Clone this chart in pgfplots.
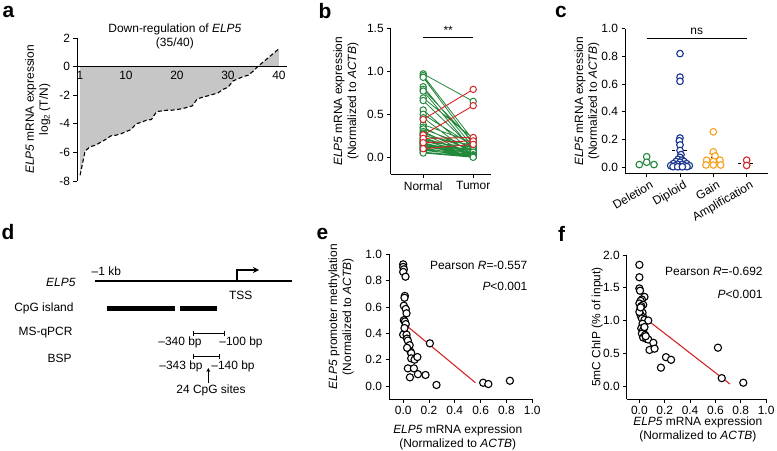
\documentclass[border=0pt]{standalone}
\usepackage{fontspec}
\setmainfont{Liberation Sans}
\usepackage{pgfplots}
\pgfplotsset{compat=1.18}
\usetikzlibrary{arrows.meta}

\definecolor{gGreen}{RGB}{34,136,58}
\definecolor{gRed}{RGB}{214,36,40}
\definecolor{gBlue}{RGB}{24,52,140}
\definecolor{gOrange}{RGB}{247,160,30}
\newcommand{\fs}{\fontsize{12}{14}\selectfont}

\pgfplotsset{
 gp/.style={scale only axis, clip=false, anchor=south west,
   axis x line*=bottom, axis y line*=left,
   axis line style={line width=1bp,black},
   every inner x axis line/.append style={-}, every outer x axis line/.append style={-},
   every inner y axis line/.append style={-}, every outer y axis line/.append style={-},
   x axis line style={-}, y axis line style={-},
   tick style={black,line width=0.9bp},
   major tick length=3.5bp, tick align=outside,
   tick label style={font=\fs},
   label style={font=\fs, align=center},
   /pgf/number format/assume math mode=true},
 dec1/.style={yticklabel style={/pgf/number format/.cd,fixed,fixed zerofill,precision=1}},
 dec1x/.style={xticklabel style={/pgf/number format/.cd,fixed,fixed zerofill,precision=1}},
 opencirc/.style={only marks, mark=*, mark size=3.6bp, mark options={fill=white, draw=black, line width=1.1bp}},
}

\begin{document}
\begin{tikzpicture}
\path[use as bounding box] (0,0) rectangle (777bp,451bp);

% ---------- a ----------
\begin{axis}[gp, at={(77bp,270bp)}, width=209.6bp, height=143bp,
  xmin=0.4, xmax=41.5, ymin=-8, ymax=2, axis on top,
  axis x line=middle, axis y line*=left,
  every inner x axis line/.append style={-}, x axis line style={-},
  xtick={1,10,20,30,40}, xtick style={draw=none},
  ytick={-8,-6,-4,-2,0,2},
  xticklabel style={yshift=1bp},
  ylabel={\textit{ELP5} mRNA expression\\log\textsubscript{2} (T/N)},
  ylabel style={at={(axis description cs:-0.11,0.5)}, anchor=south}]
\addplot[fill=gray!45, draw=none] coordinates {(1,-7.6)(2,-5.9)(3,-5.6)(4,-5.5)(5,-5.3)(6,-5.1)(7,-4.85)(8,-4.8)(9,-4.7)(10,-4.55)(11,-4.4)(12,-4.0)(13,-3.9)(14,-3.75)(15,-3.7)(16,-3.15)(17,-3.1)(18,-3.05)(19,-3.05)(20,-3.0)(21,-2.95)(22,-2.85)(23,-2.75)(24,-2.25)(25,-2.15)(26,-2.05)(27,-1.95)(28,-1.85)(29,-1.6)(30,-1.45)(31,-1.0)(32,-0.85)(33,-0.7)(34,-0.6)(35,-0.3)(36,0.05)(37,0.35)(38,0.65)(39,0.95)(40,1.25)} \closedcycle;
\addplot[black, line width=1.1bp, dash pattern=on 4bp off 2.5bp] coordinates {(1,-7.6)(2,-5.9)(3,-5.6)(4,-5.5)(5,-5.3)(6,-5.1)(7,-4.85)(8,-4.8)(9,-4.7)(10,-4.55)(11,-4.4)(12,-4.0)(13,-3.9)(14,-3.75)(15,-3.7)(16,-3.15)(17,-3.1)(18,-3.05)(19,-3.05)(20,-3.0)(21,-2.95)(22,-2.85)(23,-2.75)(24,-2.25)(25,-2.15)(26,-2.05)(27,-1.95)(28,-1.85)(29,-1.6)(30,-1.45)(31,-1.0)(32,-0.85)(33,-0.7)(34,-0.6)(35,-0.3)(36,0.05)(37,0.35)(38,0.65)(39,0.95)(40,1.25)};
\node[font=\fs, align=center] at (axis cs:19.6,2.1) {Down-regulation of \textit{ELP5}\\(35/40)};
\end{axis}

% ---------- b ----------
\begin{axis}[gp, dec1, at={(390.7bp,276.5bp)}, width=100bp, height=146.2bp,
  xmin=-0.65, xmax=1.35, ymin=-0.2, ymax=1.5,
  xtick={0,1}, xticklabels={Normal,Tumor}, ytick={0,0.5,1,1.5},
  unbounded coords=jump,
  ylabel={\textit{ELP5} mRNA expression\\(Normalized to \textit{ACTB})},
  ylabel style={at={(axis description cs:-0.287,0.5)}, anchor=south}]
\addplot[gGreen, line width=0.8bp, mark=*, mark size=3.2bp, mark options={fill=white, line width=1bp}] coordinates {
(0,0.97)(1,0.65)(0.5,nan)(0,0.95)(1,0.20)(0.5,nan)(0,0.93)(1,0.15)(0.5,nan)(0,0.82)(1,0.12)(0.5,nan)
(0,0.79)(1,0.18)(0.5,nan)(0,0.77)(1,0.08)(0.5,nan)(0,0.69)(1,0.22)(0.5,nan)(0,0.66)(1,0.10)(0.5,nan)
(0,0.55)(1,0.05)(0.5,nan)(0,0.50)(1,0.13)(0.5,nan)(0,0.46)(1,0.02)(0.5,nan)(0,0.38)(1,0.17)(0.5,nan)
(0,0.35)(1,0.06)(0.5,nan)(0,0.33)(1,0.11)(0.5,nan)(0,0.30)(1,0.03)(0.5,nan)(0,0.28)(1,0.09)(0.5,nan)
(0,0.27)(1,0.01)(0.5,nan)(0,0.25)(1,0.14)(0.5,nan)(0,0.23)(1,0.04)(0.5,nan)(0,0.21)(1,0.07)(0.5,nan)
(0,0.20)(1,0.02)(0.5,nan)(0,0.19)(1,0.05)(0.5,nan)(0,0.18)(1,0.12)(0.5,nan)(0,0.17)(1,0.03)(0.5,nan)
(0,0.16)(1,0.01)(0.5,nan)(0,0.15)(1,0.08)(0.5,nan)(0,0.14)(1,0.04)(0.5,nan)(0,0.13)(1,0.02)(0.5,nan)
(0,0.12)(1,0.06)(0.5,nan)(0,0.11)(1,0.01)(0.5,nan)(0,0.10)(1,0.03)(0.5,nan)(0,0.09)(1,0.005)(0.5,nan)
(0,0.08)(1,0.02)(0.5,nan)(0,0.06)(1,0.01)(0.5,nan)(0,0.05)(1,0.0)};
\addplot[gRed, line width=0.9bp, mark=*, mark size=3.2bp, mark options={fill=white, line width=1bp}] coordinates {
(0,0.44)(1,0.79)(0.5,nan)(0,0.26)(1,0.60)(0.5,nan)(0,0.22)(1,0.23)(0.5,nan)(0,0.17)(1,0.19)(0.5,nan)(0,0.10)(1,0.15)};
\addplot[black, line width=1bp] coordinates {(0,1.39)(1,1.39)};
\node[font=\fs, anchor=south] at (axis cs:0.5,1.39) {**};
\end{axis}

% ---------- c ----------
\begin{axis}[gp, dec1, at={(625bp,277bp)}, width=143bp, height=145.3bp,
  xmin=-0.65, xmax=3.64, ymin=-0.05, ymax=1.0,
  xtick={0,1,2,3}, xticklabels={Deletion,Diploid,Gain,Amplification},
  xticklabel style={rotate=30, anchor=north east, inner sep=1.5bp, xshift=3bp, yshift=-2bp},
  ytick={0,0.2,0.4,0.6,0.8,1.0},
  ylabel={\textit{ELP5} mRNA expression\\(Normalized to \textit{ACTB})},
  ylabel style={at={(axis description cs:-0.154,0.5)}, anchor=south}]
\addplot[gGreen!40, line width=0.8bp] coordinates {(-0.2,0.035)(0.2,0.035)};
\addplot[gBlue, line width=1bp] coordinates {(1,0.08)(1,0.16)};
\addplot[gBlue, line width=1bp] coordinates {(0.88,0.16)(1.12,0.16)};
\addplot[gOrange, line width=1bp] coordinates {(2,0.04)(2,0.10)};
\addplot[gOrange, line width=1bp] coordinates {(1.88,0.10)(2.12,0.10)};
\addplot[only marks, mark=*, mark size=3.3bp, mark options={fill=white, draw=gGreen, line width=1.1bp}] coordinates {(-0.22,0.018)(0,0.075)(0,0.035)(0.22,0.018)};
\addplot[only marks, mark=*, mark size=3.3bp, mark options={fill=white, draw=gBlue, line width=1.1bp}] coordinates {
(1,0.82)(1,0.65)(1,0.62)(1,0.21)(0.98,0.19)(1,0.16)(1,0.12)(1.03,0.09)(1,0.07)(0.94,0.055)(1.06,0.05)(0.88,0.04)(1.12,0.04)(1,0.035)(0.8,0.025)(1.2,0.025)(0.93,0.02)(1.07,0.02)(0.72,0.01)(1.28,0.01)(0.86,0.01)(1.14,0.01)(0.79,0.003)(1.21,0.003)(1,0.005)(0.93,0.002)(1.07,0.002)};
\addplot[only marks, mark=*, mark size=3.3bp, mark options={fill=white, draw=gOrange, line width=1.1bp}] coordinates {
(2,0.255)(2,0.11)(2.05,0.08)(1.8,0.05)(2.2,0.05)(2,0.04)(1.78,0.015)(2,0.015)(2.22,0.015)};
\addplot[only marks, mark=*, mark size=3.3bp, mark options={fill=white, draw=gRed, line width=1.1bp}] coordinates {(3,0.05)(3,0.012)};
\addplot[black, dashed, line width=0.8bp] coordinates {(0.75,0.12)(1.25,0.12)};
\addplot[black, dashed, line width=0.8bp] coordinates {(1.75,0.067)(2.25,0.067)};
\addplot[black, dashed, line width=0.8bp] coordinates {(2.75,0.03)(3.25,0.03)};
\addplot[black, line width=1bp] coordinates {(0,0.93)(3,0.93)};
\node[font=\fs, anchor=south] at (axis cs:1.5,0.93) {ns};
\end{axis}

% ---------- e ----------
\begin{axis}[gp, dec1, dec1x, at={(389bp,51.8bp)}, width=143.2bp, height=144.9bp,
  xmin=-0.11, xmax=1.0, ymin=-0.1, ymax=1.0,
  xtick={0,0.2,0.4,0.6,0.8,1.0}, ytick={0,0.2,0.4,0.6,0.8,1.0},
  ylabel={\textit{ELP5} promoter methylation\\(Normalized to \textit{ACTB})},
  ylabel style={at={(axis description cs:-0.223,0.57)}, anchor=south},
  xlabel={\textit{ELP5} mRNA expression\\(Normalized to \textit{ACTB})},
  xlabel style={at={(axis description cs:0.48,-0.154)}, anchor=north}]
\addplot[opencirc] coordinates {
(0.0,0.924)(0.0,0.904)(0.005,0.886)(0.0,0.866)(0.018,0.83)(0.013,0.684)(0.01,0.67)(0.005,0.61)(0.02,0.585)(0.026,0.552)
(0.005,0.50)(0.013,0.49)(0.02,0.47)(0.0,0.39)(0.026,0.39)(0.03,0.36)(0.036,0.345)(0.05,0.31)(0.057,0.26)(0.062,0.25)
(0.062,0.21)(0.088,0.2)(0.11,0.22)(0.207,0.324)(0.036,0.134)(0.083,0.134)(0.052,0.066)(0.114,0.09)(0.173,0.084)(0.258,0.008)
(0.62,0.025)(0.66,0.015)(0.827,0.04)(0.01,0.44)(0.03,0.29)};
\addplot[gRed, line width=1.1bp] coordinates {(0.018,0.465)(0.56,0.025)};
\node[font=\fs, anchor=east] at (axis cs:0.99,0.919) {Pearson \textit{R}=-0.557};
\node[font=\fs, anchor=east] at (axis cs:0.99,0.76) {\textit{P}<0.001};
\end{axis}

% ---------- f ----------
\begin{axis}[gp, dec1, dec1x, at={(626.7bp,51.9bp)}, width=139.4bp, height=144.1bp,
  xmin=-0.1, xmax=1.0, ymin=-0.2, ymax=2.0,
  xtick={0,0.2,0.4,0.6,0.8,1.0}, ytick={0,0.5,1.0,1.5,2.0},
  ylabel={5mC ChIP (\% of input)},
  ylabel style={at={(axis description cs:-0.145,0.5)}, anchor=south},
  xlabel={\textit{ELP5} mRNA expression\\(Normalized to \textit{ACTB})},
  xlabel style={at={(axis description cs:0.51,-0.096)}, anchor=north}]
\addplot[opencirc] coordinates {
(0.0,1.85)(0.0,1.66)(0.0,1.49)(0.005,1.455)(0.04,1.36)(0.02,1.32)(0.01,1.30)(0.0,1.26)(0.03,1.24)(0.015,1.22)
(0.005,1.16)(0.025,1.12)(0.01,1.08)(0.03,1.05)(0.02,1.03)(0.04,1.01)(0.07,1.0)(0.025,0.95)(0.015,0.88)(0.03,0.855)
(0.02,0.80)(0.03,0.74)(0.045,0.78)(0.055,0.72)(0.07,0.71)(0.11,0.66)(0.08,0.55)(0.12,0.57)(0.21,0.44)(0.25,0.40)
(0.17,0.28)(0.62,0.585)(0.65,0.12)(0.82,0.05)(0.04,0.90)(0.05,0.76)(0.0,1.13)(0.01,1.2)};
\addplot[gRed, line width=1.1bp] coordinates {(0.055,1.02)(0.715,0.03)};
\node[font=\fs, anchor=east] at (axis cs:1.0,1.745) {Pearson \textit{R}=-0.692};
\node[font=\fs, anchor=east] at (axis cs:1.0,1.40) {\textit{P}<0.001};
\end{axis}

% ---------- overlay: panel d and letters ----------
\begin{axis}[at={(0bp,0bp)}, anchor=south west, scale only axis, width=777bp, height=451bp,
  xmin=0, xmax=777, ymin=0, ymax=451, y dir=reverse, hide axis, clip=false]
\addplot[black, line width=1.8bp] coordinates {(95,281)(291.7,281)};
\addplot[black, line width=1.6bp, -{Stealth[length=6bp,width=6bp]}] coordinates {(236.7,281)(236.7,270)(259,270)};
\addplot[black, line width=5bp] coordinates {(106.7,308.3)(175,308.3)};
\addplot[black, line width=5bp] coordinates {(180,308.3)(216.7,308.3)};
\addplot[black, line width=1bp, arrows={Bar[width=5bp]-Bar[width=5bp]}] coordinates {(193.3,333.3)(225,333.3)};
\addplot[black, line width=1bp, arrows={Bar[width=5bp]-Bar[width=5bp]}] coordinates {(192.7,356.7)(220,356.7)};
\addplot[black, line width=1bp, -{Stealth[length=4bp,width=4bp]}] coordinates {(208.3,383.3)(208.3,368)};
\node[font=\fs] at (axis cs:106.3,271.7) {--1 kb};
\node[font=\fs, anchor=east] at (axis cs:79,282) {\textit{ELP5}};
\node[font=\fs] at (axis cs:240.7,295) {TSS};
\node[font=\fs, anchor=east] at (axis cs:77,308) {CpG island};
\node[font=\fs, anchor=east] at (axis cs:76,332.7) {MS-qPCR};
\node[font=\fs] at (axis cs:180,342.7) {--340 bp};
\node[font=\fs] at (axis cs:241,342.7) {--100 bp};
\node[font=\fs, anchor=east] at (axis cs:75,358.3) {BSP};
\node[font=\fs] at (axis cs:181,366) {--343 bp};
\node[font=\fs] at (axis cs:233,366) {--140 bp};
\node[font=\fs] at (axis cs:211,390) {24 CpG sites};
\node[font=\fontsize{21}{21}\selectfont\bfseries] at (axis cs:8.5,11.7) {a};
\node[font=\fontsize{21}{21}\selectfont\bfseries] at (axis cs:325,11) {b};
\node[font=\fontsize{21}{21}\selectfont\bfseries] at (axis cs:561,12) {c};
\node[font=\fontsize{21}{21}\selectfont\bfseries] at (axis cs:8,232) {d};
\node[font=\fontsize{21}{21}\selectfont\bfseries] at (axis cs:322.5,234) {e};
\node[font=\fontsize{21}{21}\selectfont\bfseries] at (axis cs:561.5,234) {f};
\end{axis}
\end{tikzpicture}
\end{document}
